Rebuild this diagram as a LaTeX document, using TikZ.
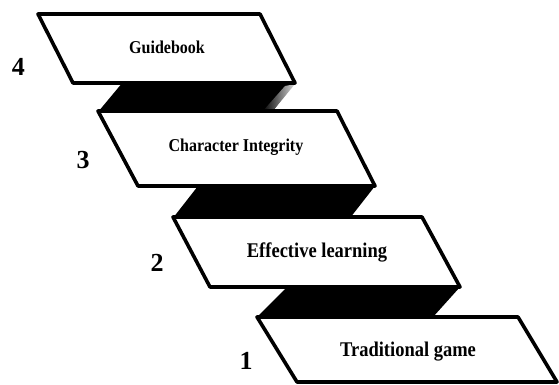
\documentclass[tikz,border=0pt]{standalone}
\usepackage{fontspec}
\setmainfont{Liberation Serif}
\tikzset{
  stepbox/.style={draw=black, fill=white, line width=3.6pt, line join=round},
  band/.style={fill=black},
  boxtext/.style={font=\bfseries, inner sep=0pt},
  numtext/.style={font=\bfseries\fontsize{26}{28}\selectfont, inner sep=0pt}
}
\newcommand{\stretchtxt}[2]{\scalebox{1}[1.13]{\fontsize{#1}{#1}\selectfont #2}}
\begin{document}
\begin{tikzpicture}[x=1pt,y=-1pt]
\useasboundingbox (0,0) rectangle (559,385);
% dark bands
\fill[band] (123,82) -- (295,82) -- (272,112) -- (98,112) -- cycle;
\shade[left color=black, right color=white!85!black] (262,112) -- (285,86) -- (295,84) -- (272,112) -- cycle;
\fill[band] (198,186) -- (375,186) -- (350,218) -- (173,218) -- cycle;
\fill[band] (287,287) -- (460,287) -- (433,317) -- (257,317) -- cycle;
% boxes
\draw[stepbox] (38,14) -- (260,14) -- (295,83) -- (73,83) -- cycle;
\draw[stepbox] (98,111) -- (337,111) -- (375,186) -- (138,186) -- cycle;
\draw[stepbox] (173,217) -- (422,217) -- (460,287) -- (210,287) -- cycle;
\draw[stepbox] (257,317) -- (518,317) -- (557,382) -- (297,382) -- cycle;
% texts
\node[boxtext] (t4) at (167,47) {\stretchtxt{16}{Guidebook}};
\node[boxtext] (t3) at (236,147) {\stretchtxt{16}{Character Integrity}};
\node[boxtext] (t2) at (317,252) {\stretchtxt{18.5}{Effective learning}};
\node[boxtext] (t1) at (408,352) {\stretchtxt{18.5}{Traditional game}};
% numbers
\node[numtext] (n4) at (18.5,67) {4};
\node[numtext] (n3) at (83,160) {3};
\node[numtext] (n2) at (157,263) {2};
\node[numtext] (n1) at (246,361) {1};
\end{tikzpicture}
\end{document}
